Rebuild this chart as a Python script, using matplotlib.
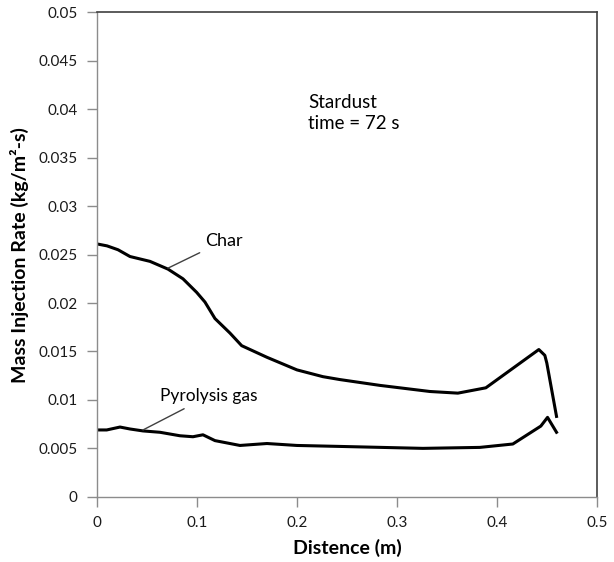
import matplotlib
matplotlib.use("Agg")
import matplotlib.pyplot as plt
import numpy as np

# Char mass injection rate along the surface
char_x = [0.0, 0.010, 0.021, 0.033, 0.053, 0.071, 0.086, 0.0997, 0.108, 0.118,
          0.133, 0.1447, 0.170, 0.200, 0.226, 0.243, 0.283, 0.333, 0.361, 0.389,
          0.442, 0.448, 0.450, 0.4597]
char_y = [0.0261, 0.0259, 0.0255, 0.0248, 0.0243, 0.0235, 0.0225, 0.0211, 0.0201, 0.0184,
          0.0169, 0.0156, 0.0144, 0.0131, 0.0124, 0.0121, 0.0115, 0.01087, 0.0107, 0.01125,
          0.0152, 0.0146, 0.0138, 0.0083]

# Pyrolysis gas mass injection rate along the surface
pyro_x = [0.0, 0.0097, 0.023, 0.033, 0.046, 0.063, 0.083, 0.096, 0.106, 0.118,
          0.143, 0.170, 0.200, 0.243, 0.326, 0.383, 0.416, 0.444, 0.4507, 0.4597]
pyro_y = [0.0069, 0.0069, 0.0072, 0.0070, 0.0068, 0.00666, 0.0063, 0.0062, 0.0064, 0.0058,
          0.0053, 0.0055, 0.0053, 0.0052, 0.0050, 0.0051, 0.00545, 0.0073, 0.0082, 0.00666]

x_ticks = [0, 0.1, 0.2, 0.3, 0.4, 0.5]
x_tick_labels = ["0", "0.1", "0.2", "0.3", "0.4", "0.5"]
y_ticks = [0, 0.005, 0.01, 0.015, 0.02, 0.025, 0.03, 0.035, 0.04, 0.045, 0.05]
y_tick_labels = ["0", "0.005", "0.01", "0.015", "0.02", "0.025", "0.03", "0.035",
                 "0.04", "0.045", "0.05"]

plt.rcParams['font.family'] = ['Lato', 'DejaVu Sans']

fig = plt.figure(figsize=(6.14, 5.62), dpi=100)
ax = fig.add_axes([0.158, 0.116, 0.814, 0.862])

ax.plot(char_x, char_y, color='black', lw=2.2, solid_joinstyle='round')
ax.plot(pyro_x, pyro_y, color='black', lw=2.2, solid_joinstyle='round')

ax.set_xlim(0, 0.5)
ax.set_ylim(0, 0.05)
ax.set_xticks(x_ticks)
ax.set_xticklabels(x_tick_labels)
ax.set_yticks(y_ticks)
ax.set_yticklabels(y_tick_labels)

axis_gray = '#8c8c8c'
for side in ['left', 'bottom']:
    ax.spines[side].set_color(axis_gray)
    ax.spines[side].set_linewidth(1.0)
for side in ['top', 'right']:
    ax.spines[side].set_color('#404040')
    ax.spines[side].set_linewidth(1.2)

ax.tick_params(axis='both', direction='out', length=7, width=1.0, color=axis_gray,
               labelsize=11, labelcolor='#1a1a1a', pad=7)

ax.set_xlabel('Distence (m)', fontsize=14, fontweight='bold', labelpad=6)
ax.set_ylabel('Mass Injection Rate (kg/m\u00b2-s)', fontsize=14, fontweight='bold',
              labelpad=7)

ax.annotate('Char', xy=(0.071, 0.0236), xytext=(0.108, 0.0264),
            fontsize=13, ha='left', va='center',
            arrowprops=dict(arrowstyle='-', color='#404040', lw=1.0,
                            shrinkA=2, shrinkB=0))
ax.annotate('Pyrolysis gas', xy=(0.046, 0.0069), xytext=(0.063, 0.0104),
            fontsize=12.5, ha='left', va='center',
            arrowprops=dict(arrowstyle='-', color='#404040', lw=1.0,
                            shrinkA=3, shrinkB=0))

ax.text(0.211, 0.0396, 'Stardust\ntime = 72 s', fontsize=13.5, ha='left', va='center',
        linespacing=1.3)

fig.savefig('out.png', dpi=100)
